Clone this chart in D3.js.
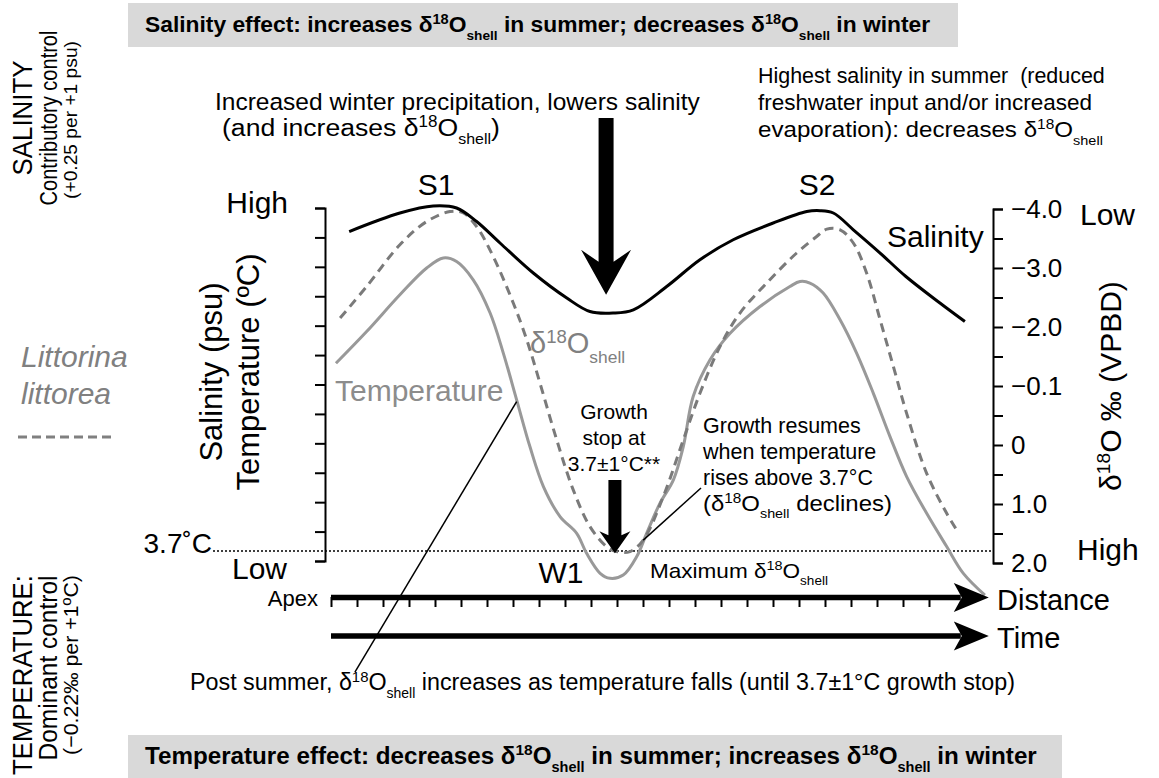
<!DOCTYPE html>
<html lang="en">
<head>
<meta charset="utf-8">
<title>Salinity and temperature controls on shell d18O - D3</title>
<style>
  body { margin: 0; background: #fff; }
  svg { display: block; font-family: "Liberation Sans", Arial, Helvetica, sans-serif; }
</style>
</head>
<body>
<div id="chart"></div>
<script src="https://d3js.org/d3.v7.min.js"></script>
<script>
// curves: [distance step, relative level 0 (low) .. 12 (high)]
var salinity = [[0.70, 11.20], [2.65, 11.83], [3.93, 12.07], [4.83, 12.00], [5.60, 11.54],
  [6.50, 10.81], [7.78, 9.79], [9.07, 8.94], [9.96, 8.48], [10.86, 8.43], [11.63, 8.54],
  [12.91, 9.33], [14.19, 10.24], [15.47, 10.92], [17.01, 11.49], [18.30, 11.88], [18.81, 11.91],
  [19.32, 11.83], [20.09, 11.26], [21.12, 10.47], [22.10, 9.68], [23.42, 8.77], [24.38, 8.14]]

var shell = [[0.35, 8.26], [1.37, 9.33], [2.65, 10.75], [3.68, 11.54], [4.58, 11.88], [5.09, 11.83],
  [5.60, 11.37], [6.24, 10.35], [7.01, 8.77], [7.53, 7.52], [8.04, 6.04], [8.68, 4.12], [9.32, 2.41],
  [9.96, 1.17], [10.60, 0.49], [10.99, 0.32], [11.50, 0.32], [12.01, 0.71], [12.78, 2.19],
  [13.55, 4.12], [14.19, 5.70], [14.96, 7.29], [15.73, 8.43], [16.76, 9.45], [17.91, 10.47],
  [18.68, 11.03], [19.07, 11.28], [19.58, 11.26], [20.09, 10.81], [20.60, 9.79], [21.12, 8.20],
  [21.63, 6.61], [22.14, 5.02], [22.91, 2.98], [23.68, 1.62], [24.07, 1.05]]

var temperature = [[0.19, 6.72], [1.37, 7.80], [2.65, 9.05], [3.68, 9.96], [4.32, 10.30], [4.83, 10.18],
  [5.47, 9.56], [6.12, 8.43], [6.63, 7.06], [7.14, 5.48], [7.65, 3.89], [8.17, 2.53], [8.81, 1.51],
  [9.45, 0.94], [9.83, 0.26], [10.35, -0.42], [10.73, -0.59], [11.24, -0.48], [11.76, 0.15],
  [12.14, 0.94], [12.65, 1.96], [13.17, 2.76], [13.55, 3.89], [13.93, 5.59], [14.58, 6.84],
  [15.35, 7.74], [16.50, 8.65], [17.65, 9.33], [18.04, 9.50], [18.42, 9.45], [18.93, 9.11],
  [19.58, 8.20], [20.22, 7.06], [20.86, 5.70], [21.50, 4.23], [22.14, 2.87], [22.91, 1.62],
  [23.68, 0.49], [24.32, -0.42], [25.15, -1.16]]

// axis ticks
var levelTicks = d3.range(13)
var distanceTicks = d3.range(24)
var d18oLabels = ["\u22124.0", "\u22123.0", "\u22122.0", "\u22120.1", "0", "1.0", "2.0"]
var growthStop = 0.34   // 3.7 C level on the relative scale
var arrowEnd = 25.3     // tip of the distance / time arrows

var width = 1159,
  height = 778

var svg = d3.select("#chart")
  .append("svg")
    .attr("width", width)
    .attr("height", height)

var x = d3.scaleLinear().domain([0, 23]).range([331, 929])
var y = d3.scaleLinear().domain([0, 12]).range([561, 208])
var yRight = d3.scaleLinear().domain([0, 12]).range([563, 209])

// text with ^{sup} and _{sub} parts; fit squeezes it to a given length
function richText(g, str, o) {
  var t = g.append("text")
    .attr("x", o.x)
    .attr("y", o.y)
    .attr("font-size", o.size)
    .attr("fill", o.color || "#000")
    .attr("text-anchor", o.anchor || "start")
  if (o.weight) t.attr("font-weight", o.weight)
  if (o.italic) t.attr("font-style", "italic")
  var shift = 0, fs = o.size
  str.split(/(\^\{[^}]*\}|_\{[^}]*\})/).forEach(function (p) {
    if (!p) return
    var s = t.append("tspan")
    if (p[0] === "^") {
      s.attr("font-size", fs * 0.64).attr("dy", -fs * 0.36 - shift).text(p.slice(2, -1))
      shift = -fs * 0.36
    } else if (p[0] === "_") {
      s.attr("font-size", fs * 0.6).attr("dy", fs * 0.34 - shift).text(p.slice(2, -1))
      shift = fs * 0.34
    } else {
      s.attr("dy", -shift).text(p)
      shift = 0
    }
  })
  var k = o.fit ? o.fit / t.node().getComputedTextLength() : 1
  if (o.rotate || o.fit) {
    t.attr("transform", "translate(" + o.x + "," + o.y + ") rotate(" + (o.rotate || 0) + ") scale(" + k + ",1) translate(" +
      (-o.x) + "," + (-o.y) + ")")
  }
  return t
}

// grey banners
svg.append("rect").attr("x", 128).attr("y", 3).attr("width", 830).attr("height", 44).attr("fill", "#d9d9d9")
svg.append("rect").attr("x", 128).attr("y", 735).attr("width", 934).attr("height", 43).attr("fill", "#d9d9d9")
richText(svg, "Salinity effect: increases \u03b4^{18}O_{shell} in summer; decreases \u03b4^{18}O_{shell} in winter",
  {x: 145, y: 32, size: 22.8, weight: "bold"})
richText(svg, "Temperature effect: decreases \u03b4^{18}O_{shell} in summer; increases \u03b4^{18}O_{shell} in winter",
  {x: 145, y: 764, size: 24.2, weight: "bold"})

// left axis (salinity / temperature)
var gl = svg.append("g")
  .attr("transform", "translate(325, 0)")
  .call(d3.axisLeft(y).tickValues(levelTicks).tickSize(10).tickSizeOuter(10).tickFormat(""))
gl.selectAll("path, line").attr("stroke", "#000").attr("stroke-width", 2)

// right axis (d18O)
var gr = svg.append("g")
  .attr("transform", "translate(993, 0)")
  .call(d3.axisRight(yRight).tickValues(levelTicks).tickSize(10).tickSizeOuter(10).tickPadding(8)
    .tickFormat(function (i) { return i % 2 ? "" : d18oLabels[(12 - i) / 2] }))
gr.selectAll("path, line").attr("stroke", "#000").attr("stroke-width", 2)
gr.selectAll("text").attr("font-size", 26).attr("font-family", "Liberation Sans, Arial, sans-serif").attr("fill", "#000")

// 3.7 C growth stop line
svg.append("line")
  .attr("x1", 213).attr("x2", 993)
  .attr("y1", y(growthStop)).attr("y2", y(growthStop))
  .attr("stroke", "#000").attr("stroke-width", 1.6).attr("stroke-dasharray", "2,2")

// curves
var line = d3.line()
  .x(function (d) { return x(d[0]) })
  .y(function (d) { return y(d[1]) })
  .curve(d3.curveCatmullRom.alpha(0.5))

svg.append("path").datum(temperature).attr("d", line)
  .attr("fill", "none").attr("stroke", "#999").attr("stroke-width", 3)
svg.append("path").datum(shell).attr("d", line)
  .attr("fill", "none").attr("stroke", "#7a7a7a").attr("stroke-width", 3).attr("stroke-dasharray", "9,6")
svg.append("path").datum(salinity).attr("d", line)
  .attr("fill", "none").attr("stroke", "#000").attr("stroke-width", 3)

// leader lines
svg.append("line")
  .attr("x1", x(7.14)).attr("y1", y(5.42)).attr("x2", x(0.92)).attr("y2", y(-3.78))
  .attr("stroke", "#000").attr("stroke-width", 1.5)
svg.append("line")
  .attr("x1", x(12.01)).attr("y1", y(0.71)).attr("x2", x(14.23)).attr("y2", y(2.48))
  .attr("stroke", "#000").attr("stroke-width", 1.5)

// vertical arrows
function downArrow(cx, top, tip, shaft, head, len, sweep) {
  var b = tip - len
  svg.append("path")
    .attr("d", "M" + (cx - shaft / 2) + "," + top + "H" + (cx + shaft / 2) + "V" + (b + sweep) +
      "L" + (cx + head / 2) + "," + b + "L" + cx + "," + tip + "L" + (cx - head / 2) + "," + b +
      "L" + (cx - shaft / 2) + "," + (b + sweep) + "Z")
    .attr("fill", "#000")
}
downArrow(x(10.58), 118, y(9.05), 15, 50, 45, 12)
downArrow(x(10.92), 480, y(0.26), 13, 31, 22, 4)

// distance and time arrows
function rightArrow(yy) {
  var x0 = x(0), x1 = x(arrowEnd)
  svg.append("line").attr("x1", x0).attr("x2", x1 - 28).attr("y1", yy).attr("y2", yy)
    .attr("stroke", "#000").attr("stroke-width", 5.5)
  svg.append("path")
    .attr("d", "M" + x1 + "," + yy + "L" + (x1 - 35) + "," + (yy - 14.5) + "L" + (x1 - 27) + "," + yy +
      "L" + (x1 - 35) + "," + (yy + 14.5) + "Z")
    .attr("fill", "#000")
}
rightArrow(597.5)
rightArrow(636)
var gd = svg.append("g")
  .attr("transform", "translate(0, 597)")
  .call(d3.axisBottom(x).tickValues(distanceTicks).tickSize(10).tickFormat(""))
gd.select(".domain").remove()
gd.selectAll("line").attr("stroke", "#000").attr("stroke-width", 2)

// labels
richText(svg, "High", {x: 288, y: 213, size: 30, anchor: "end"})
richText(svg, "Low", {x: 287, y: 579, size: 30, anchor: "end"})
richText(svg, "3.7\u02daC", {x: 212, y: 553, size: 28, anchor: "end"})
richText(svg, "Salinity (psu)", {x: 222, y: 372, size: 31, anchor: "middle", rotate: -90})
richText(svg, "Temperature (\u00baC)", {x: 259, y: 372, size: 31, anchor: "middle", rotate: -90})
richText(svg, "Low", {x: 1080, y: 225, size: 30})
richText(svg, "High", {x: 1077, y: 560, size: 30})
richText(svg, "\u03b4^{18}O \u2030 (VPBD)", {x: 1121, y: 386, size: 30, anchor: "middle", rotate: -90})

richText(svg, "S1", {x: 436, y: 195, size: 30, anchor: "middle"})
richText(svg, "S2", {x: 817, y: 195, size: 30, anchor: "middle"})
richText(svg, "W1", {x: 561, y: 583, size: 30, anchor: "middle"})
richText(svg, "Salinity", {x: 887, y: 247, size: 30})
richText(svg, "Temperature", {x: 335, y: 401, size: 30, color: "#8c8c8c"})
richText(svg, "\u03b4^{18}O_{shell}", {x: 530, y: 353, size: 29, color: "#808080"})

richText(svg, "Increased winter precipitation, lowers salinity", {x: 215, y: 110, size: 24.5})
richText(svg, "(and increases \u03b4^{18}O_{shell})", {x: 222, y: 136, size: 24.5, fit: 278})
richText(svg, "Highest salinity in summer \u00a0(reduced", {x: 758, y: 83, size: 22.5, fit: 347})
richText(svg, "freshwater input and/or increased", {x: 758, y: 110, size: 22.5, fit: 334})
richText(svg, "evaporation): decreases \u03b4^{18}O_{shell}", {x: 758, y: 137, size: 22.5, fit: 345})

richText(svg, "Growth", {x: 614, y: 419, size: 21, anchor: "middle"})
richText(svg, "stop at", {x: 614, y: 445, size: 21, anchor: "middle"})
richText(svg, "3.7\u00b11\u00b0C**", {x: 614, y: 471, size: 21, anchor: "middle"})
richText(svg, "Growth resumes", {x: 703, y: 433, size: 21.5})
richText(svg, "when temperature", {x: 703, y: 459, size: 21.5})
richText(svg, "rises above 3.7\u00b0C", {x: 703, y: 485, size: 21.5})
richText(svg, "(\u03b4^{18}O_{shell} declines)", {x: 703, y: 511, size: 21.5, fit: 189})
richText(svg, "Maximum \u03b4^{18}O_{shell}", {x: 650, y: 578, size: 21, fit: 178})

richText(svg, "Apex", {x: 318, y: 606, size: 22, anchor: "end"})
richText(svg, "Distance", {x: 997, y: 610, size: 29})
richText(svg, "Time", {x: 997, y: 648, size: 29})
richText(svg, "Post summer, \u03b4^{18}O_{shell} increases as temperature falls (until 3.7\u00b11\u00b0C growth stop)",
  {x: 190, y: 690, size: 23.3})

// left side notes
richText(svg, "SALINITY", {x: 32, y: 118, size: 28, anchor: "middle", rotate: -90, fit: 115})
richText(svg, "Contributory control", {x: 57, y: 118, size: 24, anchor: "middle", rotate: -90, fit: 175})
richText(svg, "(+0.25 per +1 psu)", {x: 77, y: 120, size: 19, anchor: "middle", rotate: -90, fit: 158})
richText(svg, "Littorina", {x: 21, y: 367, size: 30, italic: true, color: "#808080"})
richText(svg, "littorea", {x: 21, y: 404, size: 30, italic: true, color: "#808080"})
svg.append("line").attr("x1", 18).attr("x2", 114).attr("y1", 437).attr("y2", 437)
  .attr("stroke", "#808080").attr("stroke-width", 3).attr("stroke-dasharray", "9,5")
richText(svg, "TEMPERATURE:", {x: 32, y: 675, size: 28, anchor: "middle", rotate: -90, fit: 200})
richText(svg, "Dominant control", {x: 57, y: 668, size: 25, anchor: "middle", rotate: -90, fit: 185})
richText(svg, "(\u22120.22\u2030 per +1\u00baC)", {x: 78, y: 665, size: 21, anchor: "middle", rotate: -90, fit: 180})
</script>
</body>
</html>
